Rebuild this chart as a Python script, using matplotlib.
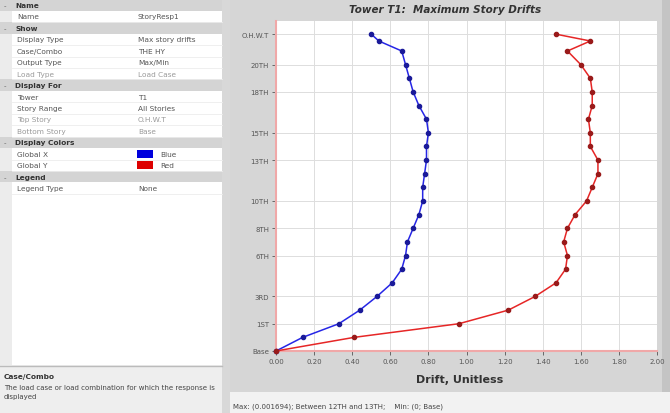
import matplotlib
matplotlib.use('Agg')
import matplotlib.pyplot as plt
from matplotlib.patches import Rectangle

# 楼层数据
stories = ['Base', 'GF', '1ST', '2ND', '3RD', '4TH', '5TH', '6TH', '7TH', '8TH',
           '9TH', '10TH', '11TH', '12TH', '13TH', '14TH', '15TH', '16TH', '17TH',
           '18TH', '19TH', '20TH', '21ST', 'TERRACE', 'O.H.W.T']
elev = [0, 3, 6, 9, 12, 15, 18, 21, 24, 27, 30, 33, 36, 39, 42, 45, 48, 51, 54,
        57, 60, 63, 66, 68.2, 69.7]
drift_x = [0.00, 0.14, 0.33, 0.44, 0.53, 0.61, 0.66, 0.68, 0.69, 0.72, 0.75, 0.77,
           0.77, 0.78, 0.79, 0.79, 0.80, 0.79, 0.75, 0.72, 0.70, 0.68, 0.66, 0.54, 0.50]
drift_y = [0.00, 0.41, 0.96, 1.22, 1.36, 1.47, 1.52, 1.53, 1.51, 1.53, 1.57, 1.63,
           1.66, 1.69, 1.69, 1.65, 1.65, 1.64, 1.66, 1.66, 1.65, 1.60, 1.53, 1.65, 1.47]
shown_labels = ['Base', '1ST', '3RD', '6TH', '8TH', '10TH', '13TH', '15TH', '18TH',
                '20TH', 'O.H.W.T']
x_ticks = [0.0, 0.2, 0.4, 0.6, 0.8, 1.0, 1.2, 1.4, 1.6, 1.8, 2.0]

# 左侧属性面板
rows = [
    ('h', 'Name', ''),
    ('r', 'Name', 'StoryResp1'),
    ('h', 'Show', ''),
    ('r', 'Display Type', 'Max story drifts'),
    ('r', 'Case/Combo', 'THE HY'),
    ('r', 'Output Type', 'Max/Min'),
    ('d', 'Load Type', 'Load Case'),
    ('h', 'Display For', ''),
    ('r', 'Tower', 'T1'),
    ('r', 'Story Range', 'All Stories'),
    ('d', 'Top Story', 'O.H.W.T'),
    ('d', 'Bottom Story', 'Base'),
    ('h', 'Display Colors', ''),
    ('c', 'Global X', 'Blue'),
    ('c', 'Global Y', 'Red'),
    ('h', 'Legend', ''),
    ('r', 'Legend Type', 'None'),
]

W, H = 670, 414


def fx(x):
    return x / W


def fy(y):
    return 1 - y / H


def box(fig, x0, y0, x1, y1, color, z=-5):
    fig.patches.append(Rectangle((fx(x0), fy(y1)), (x1 - x0) / W, (y1 - y0) / H,
                                 transform=fig.transFigure, facecolor=color,
                                 edgecolor='none', zorder=z))


fig = plt.figure(figsize=(W / 100, H / 100), dpi=100)
fig.patch.set_facecolor('white')

# 背景
box(fig, 0, 0, 230, 414, '#ffffff')
box(fig, 0, 0, 12, 366, '#ececec')
box(fig, 222, 0, 230, 414, '#d8d8d8')
box(fig, 0, 366, 222, 414, '#eeeeee')
box(fig, 230, 0, 662, 393, '#d6d6d6')
box(fig, 662, 0, 670, 393, '#c4c4c4')
box(fig, 230, 393, 670, 414, '#f2f2f2')

row_h = 11.45
for i, (kind, label, value) in enumerate(rows):
    yc = 6 + i * row_h
    if kind == 'h':
        box(fig, 0, yc - row_h / 2, 222, yc + row_h / 2, '#d4d4d4', -4)
        fig.text(fx(4), fy(yc), '-', fontsize=5, color='#666666', va='center')
        fig.text(fx(15), fy(yc), label, fontsize=5.3, fontweight='bold',
                 color='#333333', va='center')
    else:
        col = '#9a9a9a' if kind == 'd' else '#555555'
        fig.text(fx(17), fy(yc), label, fontsize=5.3, color=col, va='center')
        if kind == 'c':
            sw = '#0000dd' if value == 'Blue' else '#dd0000'
            box(fig, 137, yc - 4, 153, yc + 4, sw, -3)
            fig.text(fx(160), fy(yc), value, fontsize=5.3, color=col, va='center')
        else:
            fig.text(fx(138), fy(yc), value, fontsize=5.3, color=col, va='center')
        fig.lines.append(plt.Line2D([fx(12), fx(222)], [fy(yc + row_h / 2)] * 2,
                                    transform=fig.transFigure, color='#ececec', lw=0.6))

fig.lines.append(plt.Line2D([0, fx(222)], [fy(367)] * 2, transform=fig.transFigure,
                            color='#bbbbbb', lw=1))
fig.text(fx(4), fy(377), 'Case/Combo', fontsize=5.3, fontweight='bold', color='#333333',
         va='center')
fig.text(fx(4), fy(388), 'The load case or load combination for which the response is',
         fontsize=5, color='#444444', va='center')
fig.text(fx(4), fy(397), 'displayed', fontsize=5, color='#444444', va='center')

fig.text(fx(233), fy(407), 'Max: (0.001694); Between 12TH and 13TH;    Min: (0; Base)',
         fontsize=5, color='#444444', va='center')

# 图表
ax = fig.add_axes([fx(276), fy(352), (657 - 276) / W, (352 - 22) / H])
ax.set_zorder(5)
ax.set_facecolor('white')
ax.plot(drift_x, elev, color='#2626e6', lw=1.1, marker='o', ms=3,
        mfc='#1a1a99', mec='#1a1a99', zorder=3, clip_on=False)
ax.plot(drift_y, elev, color='#e62626', lw=1.1, marker='o', ms=3,
        mfc='#991a1a', mec='#991a1a', zorder=3, clip_on=False)

ax.set_xlim(0, 2.0)
ax.set_ylim(0, 72.6)
ax.set_xticks(x_ticks)
ax.set_xticklabels(['%.2f' % v for v in x_ticks])
ax.set_yticks([elev[stories.index(s)] for s in shown_labels])
ax.set_yticklabels(shown_labels)
ax.tick_params(axis='both', labelsize=5, colors='#555555', length=3, width=0.6, pad=2)
ax.grid(True, color='#dddddd', lw=0.7)
for s in ['top', 'right']:
    ax.spines[s].set_visible(False)
for s in ['left', 'bottom']:
    ax.spines[s].set_color('#f0a8a8')
    ax.spines[s].set_linewidth(1.5)

fig.text(fx(445), fy(10), 'Tower T1:  Maximum Story Drifts', fontsize=7.5,
         fontweight='bold', fontstyle='italic', color='#333333', ha='center', va='center')
fig.text(fx(460), fy(380), 'Drift, Unitless', fontsize=8, fontweight='bold',
         color='#333333', ha='center', va='center')

plt.savefig('out.png', dpi=100)
